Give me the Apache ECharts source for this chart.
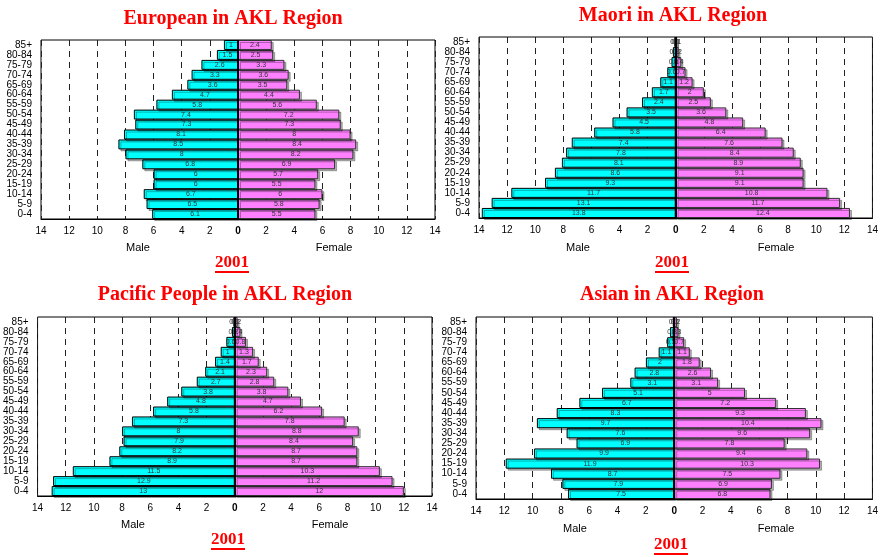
<!DOCTYPE html>
<html>
<head>
<meta charset="utf-8">
<script src="https://cdn.jsdelivr.net/npm/echarts@6/dist/echarts.min.js"></script>
<style>
html,body{margin:0;padding:0;background:#fff;}
#c{width:881px;height:557px;}
</style>
</head>
<body>
<div id="c"></div>
<script>
// Age groups, bottom to top
var ageGroups = ['0-4','5-9','10-14','15-19','20-24','25-29','30-34','35-39','40-44','45-49','50-54','55-59','60-64','65-69','70-74','75-79','80-84','85+'];
var xTicks = [-14,-12,-10,-8,-6,-4,-2,0,2,4,6,8,10,12,14];

var europeanMale   = [6.1,6.5,6.7,6,6,6.8,8,8.5,8.1,7.3,7.4,5.8,4.7,3.6,3.3,2.6,1.5,1];
var europeanFemale = [5.5,5.8,6,5.5,5.7,6.9,8.2,8.4,8,7.3,7.2,5.6,4.4,3.5,3.6,3.3,2.5,2.4];

var maoriMale   = [13.8,13.1,11.7,9.3,8.6,8.1,7.8,7.4,5.8,4.5,3.5,2.4,1.7,1.1,0.6,0.3,0.2,0.1];
var maoriFemale = [12.4,11.7,10.8,9.1,9.1,8.9,8.4,7.6,6.4,4.8,3.6,2.5,2,1.2,0.7,0.4,0.2,0.1];

var pacificMale   = [13,12.9,11.5,8.9,8.2,7.9,8,7.3,5.8,4.8,3.8,2.7,2.1,1.4,1,0.6,0.2,0.1];
var pacificFemale = [12,11.2,10.3,8.7,8.7,8.4,8.8,7.8,6.2,4.7,3.8,2.8,2.3,1.7,1.3,0.8,0.4,0.2];

var asianMale   = [7.5,7.9,8.7,11.9,9.9,6.9,7.6,9.7,8.3,6.7,5.1,3.1,2.8,2,1.1,0.5,0.3,0.1];
var asianFemale = [6.8,6.9,7.5,10.3,9.4,7.8,9.6,10.4,9.3,7.2,5,3.1,2.6,1.8,1.1,0.7,0.3,0.2];

var panels = [
  {title:'European in AKL Region', male:europeanMale, female:europeanFemale,
   grid:{left:41,top:40,width:394,height:179}, titleX:228, titleY:4,
   maleX:138, femaleX:334, labY:248, yearX:232, yearY:263},
  {title:'Maori in AKL Region', male:maoriMale, female:maoriFemale,
   grid:{left:479,top:37,width:398,height:181}, titleX:668, titleY:1,
   maleX:578, femaleX:776, labY:248, yearX:672, yearY:263},
  {title:'Pacific People in AKL Region', male:pacificMale, female:pacificFemale,
   grid:{left:37,top:317,width:395,height:179}, titleX:220, titleY:280,
   maleX:133, femaleX:330, labY:525, yearX:228, yearY:540},
  {title:'Asian in AKL Region', male:asianMale, female:asianFemale,
   grid:{left:476,top:317,width:401,height:182}, titleX:667, titleY:280,
   maleX:575, femaleX:776, labY:529, yearX:671, yearY:545}
];

var option = {
  animation:false,
  backgroundColor:'#fff',
  title:[], grid:[], xAxis:[], yAxis:[], series:[], graphic:[]
};

panels.forEach(function(p, i){
  option.title.push({
    text:p.title, left:p.titleX, top:p.titleY, textAlign:'center',
    textStyle:{fontFamily:'Liberation Serif, Times New Roman, serif', fontWeight:'bold', fontSize:20, color:'#ff0000'}
  });
  option.grid.push({left:p.grid.left, top:p.grid.top, width:p.grid.width, height:p.grid.height,
    show:true, borderColor:'#000', borderWidth:1, backgroundColor:'#fff'});
  option.xAxis.push({
    type:'value', gridIndex:i, min:xTicks[0], max:xTicks[xTicks.length-1], interval:2,
    axisLine:{show:true, lineStyle:{color:'#000', width:1}},
    axisTick:{show:false},
    splitLine:{show:true, lineStyle:{color:'#222', type:[6,5], width:1}},
    axisLabel:{margin:7, fontFamily:'Liberation Sans, Arial, sans-serif', fontSize:10, color:'#000',
      formatter:function(v){ return v === 0 ? '{b|0}' : String(Math.abs(v)); },
      rich:{b:{fontWeight:'bold', fontSize:10, fontFamily:'Liberation Sans, Arial, sans-serif', color:'#000'}}}
  });
  option.yAxis.push({
    type:'category', gridIndex:i, data:ageGroups,
    axisLine:{show:false, onZero:false},
    axisTick:{show:false},
    axisLabel:{margin:9, fontFamily:'Liberation Sans, Arial, sans-serif', fontSize:10, color:'#000', interval:0}
  });
  var lbl = {show:true, position:'inside', fontSize:7, color:'#333', textBorderWidth:0, textShadowBlur:0,
    fontFamily:'Liberation Sans, Arial, sans-serif',
    formatter:function(d){ return String(Math.abs(d.value)); }};
  option.series.push({
    type:'bar', name:'Male', xAxisIndex:i, yAxisIndex:i,
    data:p.male.map(function(v){ return -v; }),
    barCategoryGap:'0%', barGap:'-100%',
    itemStyle:{color:'#00ffff', borderColor:'#000', borderWidth:1,
      shadowColor:'rgba(0,0,0,0.3)', shadowOffsetX:2, shadowOffsetY:2, shadowBlur:0},
    label:lbl
  });
  option.series.push({
    type:'bar', name:'Female', xAxisIndex:i, yAxisIndex:i,
    data:p.female.slice(),
    barCategoryGap:'0%', barGap:'-100%',
    itemStyle:{color:'#ff80ff', borderColor:'#333', borderWidth:1,
      shadowColor:'rgba(0,0,0,0.3)', shadowOffsetX:2, shadowOffsetY:2, shadowBlur:0},
    label:lbl,
    markLine:{silent:true, symbol:'none', label:{show:false},
      lineStyle:{color:'#000', width:2, type:'solid'}, data:[{xAxis:0}]}
  });
  var sansFont = '11px "Liberation Sans", Arial, sans-serif';
  option.graphic.push({type:'text', style:{text:'Male', x:p.maleX, y:p.labY, font:sansFont, fill:'#000', textAlign:'center', textVerticalAlign:'middle'}});
  option.graphic.push({type:'text', style:{text:'Female', x:p.femaleX, y:p.labY, font:sansFont, fill:'#000', textAlign:'center', textVerticalAlign:'middle'}});
  option.graphic.push({type:'text', style:{text:'2001', x:p.yearX, y:p.yearY, font:'bold 17px "Liberation Serif", "Times New Roman", serif', fill:'#ff0000', textAlign:'center', textVerticalAlign:'middle'}});
  option.graphic.push({type:'line', shape:{x1:p.yearX-17, y1:p.yearY+9, x2:p.yearX+17, y2:p.yearY+9}, style:{stroke:'#ff0000', lineWidth:2}});
});

var chart = echarts.init(document.getElementById('c'), null, {renderer:'canvas'});
chart.setOption(option);
</script>
</body>
</html>
